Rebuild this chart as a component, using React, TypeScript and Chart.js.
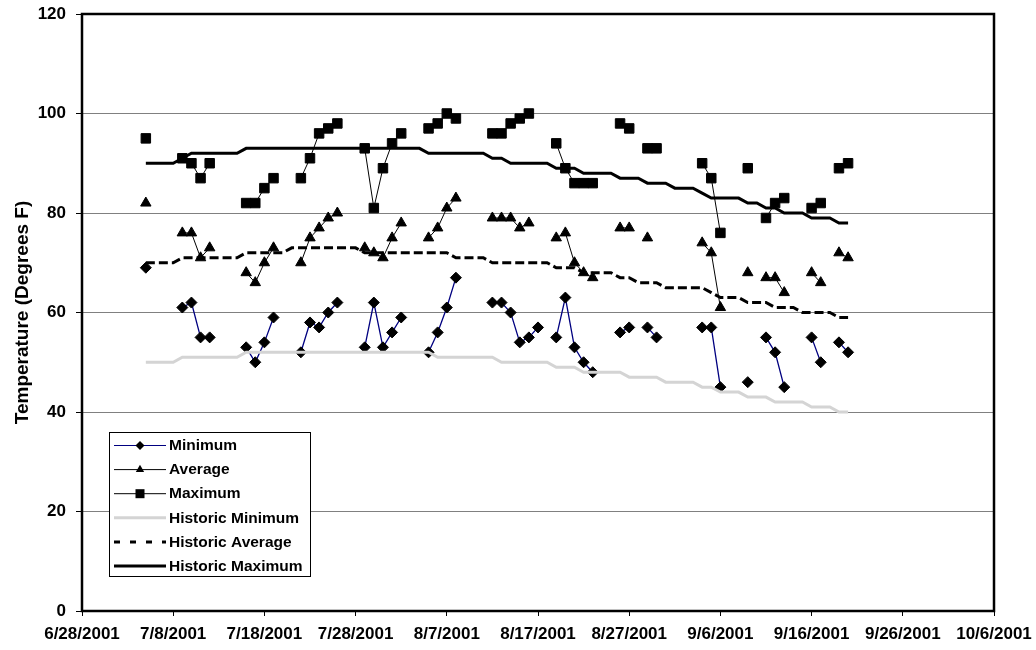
import React, { useEffect, useRef } from 'react';
import { Chart, registerables } from 'chart.js';

Chart.register(...registerables);

const N = null;

// First day of the daily series and the x-axis origin
const seriesStartDate = '7/5/2001';
const axisStartDate = '6/28/2001';

const xTickLabels = [
  '6/28/2001', '7/8/2001', '7/18/2001', '7/28/2001', '8/7/2001', '8/17/2001',
  '8/27/2001', '9/6/2001', '9/16/2001', '9/26/2001', '10/6/2001',
];

// Daily values from 7/5/2001 to 9/20/2001 (null = no reading)
const minimum = [
  69, N, N, N, 61, 62, 55,
  55, N, N, N, 53, 50, 54,
  59, N, N, 52, 58, 57, 60,
  62, N, N, 53, 62, 53, 56,
  59, N, N, 52, 56, 61, 67,
  N, N, N, 62, 62, 60, 54,
  55, 57, N, 55, 63, 53, 50,
  48, N, N, 56, 57, N, 57,
  55, N, N, N, N, 57, 57,
  45, N, N, 46, N, 55, 52,
  45, N, N, 55, 50, N, 54,
  52,
];

const average = [
  82, N, N, N, 76, 76, 71,
  73, N, N, N, 68, 66, 70,
  73, N, N, 70, 75, 77, 79,
  80, N, N, 73, 72, 71, 75,
  78, N, N, 75, 77, 81, 83,
  N, N, N, 79, 79, 79, 77,
  78, N, N, 75, 76, 70, 68,
  67, N, N, 77, 77, N, 75,
  N, N, N, N, N, 74, 72,
  61, N, N, 68, N, 67, 67,
  64, N, N, 68, 66, N, 72,
  71,
];

const maximum = [
  95, N, N, N, 91, 90, 87,
  90, N, N, N, 82, 82, 85,
  87, N, N, 87, 91, 96, 97,
  98, N, N, 93, 81, 89, 94,
  96, N, N, 97, 98, 100, 99,
  N, N, N, 96, 96, 98, 99,
  100, N, N, 94, 89, 86, 86,
  86, N, N, 98, 97, N, 93,
  93, N, N, N, N, 90, 87,
  76, N, N, 89, N, 79, 82,
  83, N, N, 81, 82, N, 89,
  90,
];

const historicMinimum = [
  50, 50, 50, 50, 51, 51, 51,
  51, 51, 51, 51, 52, 52, 52,
  52, 52, 52, 52, 52, 52, 52,
  52, 52, 52, 52, 52, 52, 52,
  52, 52, 52, 52, 51, 51, 51,
  51, 51, 51, 51, 50, 50, 50,
  50, 50, 50, 49, 49, 49, 48,
  48, 48, 48, 48, 47, 47, 47,
  47, 46, 46, 46, 46, 45, 45,
  44, 44, 44, 43, 43, 43, 42,
  42, 42, 42, 41, 41, 41, 40,
  40,
];

const historicAverage = [
  70, 70, 70, 70, 71, 71, 71,
  71, 71, 71, 71, 72, 72, 72,
  72, 72, 73, 73, 73, 73, 73,
  73, 73, 73, 72, 72, 72, 72,
  72, 72, 72, 72, 72, 72, 71,
  71, 71, 71, 70, 70, 70, 70,
  70, 70, 70, 69, 69, 69, 68,
  68, 68, 68, 67, 67, 66, 66,
  66, 65, 65, 65, 65, 65, 64,
  63, 63, 63, 62, 62, 62, 61,
  61, 61, 60, 60, 60, 60, 59,
  59,
];

const historicMaximum = [
  90, 90, 90, 90, 91, 92, 92,
  92, 92, 92, 92, 93, 93, 93,
  93, 93, 93, 93, 93, 93, 93,
  93, 93, 93, 93, 93, 93, 93,
  93, 93, 93, 92, 92, 92, 92,
  92, 92, 92, 91, 91, 90, 90,
  90, 90, 90, 89, 89, 89, 88,
  88, 88, 88, 87, 87, 87, 86,
  86, 86, 85, 85, 85, 84, 83,
  83, 83, 83, 82, 82, 81, 81,
  80, 80, 80, 79, 79, 79, 78,
  78,
];

const FONT = "'Liberation Sans', Arial, sans-serif";

function dayOffset(s: string): number {
  const [m, d, y] = s.split('/').map(Number);
  const [am, ad, ay] = axisStartDate.split('/').map(Number);
  return Math.round((Date.UTC(y, m - 1, d) - Date.UTC(ay, am - 1, ad)) / 86400000);
}

function toPoints(values: (number | null)[]) {
  const start = dayOffset(seriesStartDate);
  return values.map((v, i) => ({ x: start + i, y: v }));
}

type LegendItem = {
  label: string;
  color: string;
  width: number;
  dash: number[];
  marker: 'diamond' | 'triangle' | 'square' | null;
};

const legendItems: LegendItem[] = [
  { label: 'Minimum', color: '#000080', width: 1, dash: [], marker: 'diamond' },
  { label: 'Average', color: '#000000', width: 1, dash: [], marker: 'triangle' },
  { label: 'Maximum', color: '#000000', width: 1, dash: [], marker: 'square' },
  { label: 'Historic Minimum', color: '#d4d4d4', width: 3, dash: [], marker: null },
  { label: 'Historic Average', color: '#000000', width: 3, dash: [6, 10], marker: null },
  { label: 'Historic Maximum', color: '#000000', width: 3, dash: [], marker: null },
];

const framePlugin = {
  id: 'frameAndLegend',
  afterDatasetsDraw(chart: any) {
    const { ctx, chartArea } = chart;
    ctx.save();
    ctx.strokeStyle = '#000';
    ctx.lineWidth = 2.5;
    ctx.strokeRect(chartArea.left, chartArea.top, chartArea.right - chartArea.left, chartArea.bottom - chartArea.top);
    ctx.restore();
  },
  afterDraw(chart: any) {
    const { ctx } = chart;
    ctx.save();
    const bx = 109.5, by = 432.5, bw = 201, bh = 144;
    ctx.fillStyle = '#fff';
    ctx.fillRect(bx, by, bw, bh);
    ctx.strokeStyle = '#000';
    ctx.lineWidth = 1;
    ctx.strokeRect(bx, by, bw, bh);
    const x0 = 114, x1 = 166, xm = 140, tx = 169;
    legendItems.forEach((it, i) => {
      const y = 445.5 + i * 24.1;
      ctx.beginPath();
      ctx.setLineDash(it.dash);
      ctx.strokeStyle = it.color;
      ctx.lineWidth = it.width;
      ctx.moveTo(x0, y);
      ctx.lineTo(x1, y);
      ctx.stroke();
      ctx.setLineDash([]);
      ctx.fillStyle = '#000';
      if (it.marker === 'diamond') {
        const r = 4.5;
        ctx.beginPath();
        ctx.moveTo(xm - r, y); ctx.lineTo(xm, y - r); ctx.lineTo(xm + r, y); ctx.lineTo(xm, y + r);
        ctx.closePath(); ctx.fill();
      } else if (it.marker === 'triangle') {
        const r = 4.8;
        ctx.beginPath();
        ctx.moveTo(xm, y - r);
        ctx.lineTo(xm + r * 0.866, y + r * 0.5);
        ctx.lineTo(xm - r * 0.866, y + r * 0.5);
        ctx.closePath(); ctx.fill();
      } else if (it.marker === 'square') {
        ctx.fillRect(xm - 4.5, y - 4.5, 9, 9);
      }
      ctx.fillStyle = '#000';
      ctx.font = `bold 15.5px ${FONT}`;
      ctx.textAlign = 'left';
      ctx.textBaseline = 'middle';
      ctx.fillText(it.label, tx, y + 0.5);
    });
    ctx.restore();
  },
};

export default function App() {
  const canvasRef = useRef<HTMLCanvasElement | null>(null);

  useEffect(() => {
    document.body.style.margin = '0';
    const canvas = canvasRef.current;
    if (!canvas) return;

    const chart = new Chart(canvas, {
      type: 'line',
      data: {
        datasets: [
          {
            label: 'Historic Minimum',
            data: toPoints(historicMinimum),
            borderColor: '#d4d4d4',
            borderWidth: 3,
            pointRadius: 0,
            tension: 0,
          },
          {
            label: 'Historic Average',
            data: toPoints(historicAverage),
            borderColor: '#000',
            borderWidth: 3,
            borderDash: [9, 4],
            pointRadius: 0,
            tension: 0,
          },
          {
            label: 'Historic Maximum',
            data: toPoints(historicMaximum),
            borderColor: '#000',
            borderWidth: 3,
            pointRadius: 0,
            tension: 0,
          },
          {
            label: 'Minimum',
            data: toPoints(minimum),
            borderColor: '#000080',
            borderWidth: 1.3,
            pointStyle: 'rectRot',
            pointRadius: 5.5,
            pointBackgroundColor: '#000',
            pointBorderColor: '#000',
            pointBorderWidth: 1,
            tension: 0,
          },
          {
            label: 'Average',
            data: toPoints(average),
            borderColor: '#000',
            borderWidth: 1,
            pointStyle: 'triangle',
            pointRadius: 6,
            pointBackgroundColor: '#000',
            pointBorderColor: '#000',
            pointBorderWidth: 1,
            tension: 0,
          },
          {
            label: 'Maximum',
            data: toPoints(maximum),
            borderColor: '#000',
            borderWidth: 1,
            pointStyle: 'rect',
            pointRadius: 6.7,
            pointBackgroundColor: '#000',
            pointBorderColor: '#000',
            pointBorderWidth: 1,
            tension: 0,
          },
        ],
      },
      options: {
        animation: false,
        responsive: false,
        maintainAspectRatio: false,
        spanGaps: false,
        layout: { padding: { top: 14, right: 42, left: 0, bottom: 0 } },
        plugins: {
          legend: { display: false },
          tooltip: { enabled: false },
          title: { display: false },
        },
        scales: {
          x: {
            type: 'linear',
            min: 0,
            max: 100,
            afterFit: (scale: any) => {
              scale.height = 39;
              scale.paddingLeft = 0;
              scale.paddingRight = 0;
            },
            border: { display: false },
            grid: {
              display: true,
              drawOnChartArea: false,
              color: '#000',
              tickColor: '#000',
              tickLength: 5,
              lineWidth: 1,
            },
            ticks: {
              stepSize: 10,
              autoSkip: false,
              maxRotation: 0,
              minRotation: 0,
              padding: 8,
              color: '#000',
              font: { family: FONT, size: 17, weight: 'bold' },
              callback: (v: any) => xTickLabels[Math.round(Number(v) / 10)] ?? '',
            },
          },
          y: {
            type: 'linear',
            min: 0,
            max: 120,
            afterFit: (scale: any) => {
              scale.width = 82;
              scale.paddingTop = 0;
              scale.paddingBottom = 0;
            },
            border: { display: false },
            grid: {
              color: '#808080',
              tickColor: '#000',
              tickLength: 6,
              lineWidth: 1,
            },
            ticks: {
              stepSize: 20,
              padding: 10,
              color: '#000',
              font: { family: FONT, size: 17, weight: 'bold' },
            },
            title: {
              display: true,
              text: 'Temperature (Degrees F)',
              color: '#000',
              font: { family: FONT, size: 19, weight: 'bold' },
              padding: { top: 11, bottom: 0 },
            },
          },
        },
      },
      plugins: [framePlugin],
    } as any);

    return () => chart.destroy();
  }, []);

  return (
    <div style={{ width: 1036, height: 650 }}>
      <canvas ref={canvasRef} width={1036} height={650} style={{ display: 'block' }} />
    </div>
  );
}
